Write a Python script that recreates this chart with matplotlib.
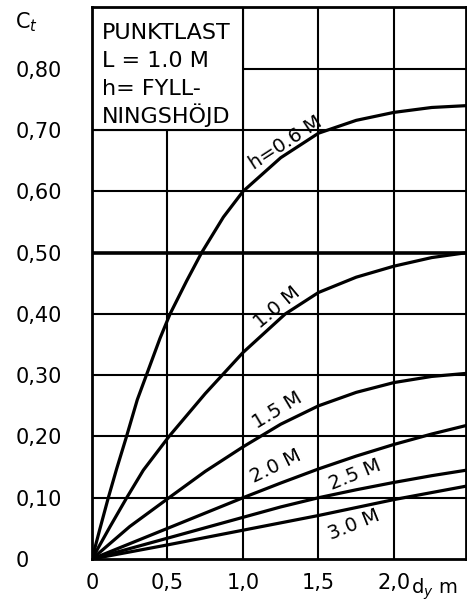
import matplotlib.pyplot as plt
from matplotlib.patches import Rectangle

# values: C_t against d_y (m), one curve per filling height h
dy_06 = [0, 0.05, 0.108, 0.163, 0.225, 0.30, 0.384, 0.45, 0.517, 0.627, 0.726, 0.87,
         1.0, 1.25, 1.5, 1.75, 2.0, 2.25, 2.48]
ct_06 = [0, 0.047, 0.10, 0.147, 0.197, 0.26, 0.316, 0.36, 0.40, 0.454, 0.50, 0.558,
         0.60, 0.655, 0.695, 0.716, 0.729, 0.737, 0.74]

dy_10 = [0, 0.12, 0.23, 0.34, 0.51, 0.75, 1.0, 1.28, 1.5, 1.75, 2.0, 2.25, 2.48]
ct_10 = [0, 0.053, 0.10, 0.145, 0.20, 0.27, 0.337, 0.40, 0.435, 0.46, 0.478, 0.492, 0.50]

dy_15 = [0, 0.25, 0.51, 0.75, 1.0, 1.25, 1.5, 1.75, 2.0, 2.25, 2.48]
ct_15 = [0, 0.053, 0.10, 0.143, 0.183, 0.22, 0.25, 0.272, 0.288, 0.298, 0.303]

dy_20 = [0, 0.25, 0.5, 0.75, 1.0, 1.25, 1.5, 1.75, 2.0, 2.25, 2.48]
ct_20 = [0, 0.025, 0.05, 0.075, 0.10, 0.124, 0.147, 0.168, 0.187, 0.204, 0.218]

dy_25 = [0, 0.5, 1.0, 1.25, 1.5, 1.75, 2.0, 2.25, 2.48]
ct_25 = [0, 0.034, 0.068, 0.085, 0.10, 0.113, 0.125, 0.136, 0.145]

dy_30 = [0, 0.5, 1.0, 1.5, 2.0, 2.48]
ct_30 = [0, 0.023, 0.047, 0.071, 0.097, 0.119]

curves = [(dy_06, ct_06), (dy_10, ct_10), (dy_15, ct_15),
          (dy_20, ct_20), (dy_25, ct_25), (dy_30, ct_30)]

# curve labels: text, x, y, angle
labels = [("h=0.6 M", 1.28, 0.68, 33),
          ("1.0 M", 1.225, 0.41, 40),
          ("1.5 M", 1.23, 0.242, 31),
          ("2.0 M", 1.22, 0.152, 26),
          ("2.5 M", 1.74, 0.137, 22),
          ("3.0 M", 1.735, 0.055, 22)]

xticks = [0, 0.5, 1.0, 1.5, 2.0]
xticklabels = ["0", "0,5", "1,0", "1,5", "2,0"]
yticks = [0, 0.1, 0.2, 0.3, 0.4, 0.5, 0.6, 0.7, 0.8]
yticklabels = ["0", "0,10", "0,20", "0,30", "0,40", "0,50", "0,60", "0,70", "0,80"]

box_lines = ["PUNKTLAST", "L = 1.0 M", "h= FYLL-", "NINGSHÖJD"]

fig = plt.figure(figsize=(4.67, 6.01), dpi=100)
ax = fig.add_axes([92 / 467, 42 / 601, 374 / 467, 552 / 601])

ax.set_xlim(0, 2.477)
ax.set_ylim(0, 0.901)

# grid
for x in xticks[1:]:
    ax.axvline(x, color="black", lw=1.5, zorder=0.5)
for y in yticks[1:]:
    ax.axhline(y, color="black", lw=2.6 if y == 0.5 else 1.5, zorder=0.5)

# white legend box covering the grid in the top-left corner
ax.add_patch(Rectangle((0, 0.70), 1.0, 0.901 - 0.70, facecolor="white",
                       edgecolor="black", lw=1.5, zorder=1))
for i, line in enumerate(box_lines):
    ax.text(0.066, 0.849 - i * 0.0457, line, fontsize=16, va="baseline",
            ha="left", zorder=2)

for xs, ys in curves:
    ax.plot(xs, ys, color="black", lw=2.3, zorder=3, solid_capstyle="round",
            solid_joinstyle="round")

for txt, x, y, ang in labels:
    ax.text(x, y, txt, fontsize=14, rotation=ang, rotation_mode="anchor",
            ha="center", va="center", zorder=4)

for s in ax.spines.values():
    s.set_linewidth(2)
    s.set_zorder(5)

ax.set_xticks(xticks, xticklabels)
ax.set_yticks(yticks, yticklabels, ha="left")
ax.tick_params(length=0, labelsize=15)
ax.tick_params(axis="x", pad=10)
ax.tick_params(axis="y", pad=55)

fig.text(15 / 467, 1 - 28 / 601, "C$_t$", fontsize=15, ha="left", va="baseline")
fig.text(411 / 467, 1 - 594 / 601, "d$_y$ m", fontsize=14, ha="left", va="baseline")

fig.savefig("out.png", dpi=100)
